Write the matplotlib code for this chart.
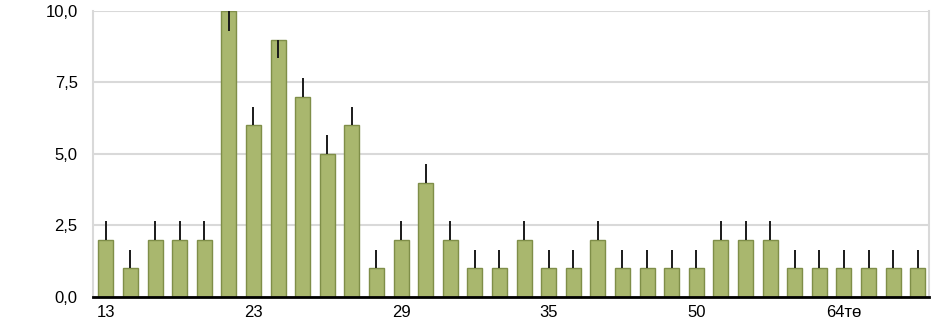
import matplotlib
matplotlib.use("Agg")
import matplotlib.pyplot as plt
import numpy as np

values = [2, 1, 2, 2, 2, 10, 6, 9, 7, 5, 6, 1, 2, 4, 2, 1, 1, 2, 1, 1, 2, 1, 1,
          1, 1, 2, 2, 2, 1, 1, 1, 1, 1, 1]
err_lower = [0, 0, 0, 0, 0, 0.7, 0, 0.65, 0, 0, 0, 0, 0, 0, 0, 0, 0, 0, 0, 0, 0,
             0, 0, 0, 0, 0, 0, 0, 0, 0, 0, 0, 0, 0]
err_upper = [0.65, 0.65, 0.65, 0.65, 0.65, 0, 0.65, 0, 0.65, 0.65, 0.65, 0.65,
             0.65, 0.65, 0.65, 0.65, 0.65, 0.65, 0.65, 0.65, 0.65, 0.65, 0.65,
             0.65, 0.65, 0.65, 0.65, 0.65, 0.65, 0.65, 0.65, 0.65, 0.65, 0.65]
tick_positions = [0, 6, 12, 18, 24, 30]
tick_labels = ["13", "23", "29", "35", "50", "64тө"]
y_ticks = [0, 2.5, 5, 7.5, 10]

plt.rcParams['font.family'] = ['Liberation Sans', 'DejaVu Sans']

fig = plt.figure(figsize=(9.31, 3.26), dpi=100)
ax = fig.add_axes([0.0999, 0.089, 0.898, 0.8773])

x = np.arange(len(values))
ax.bar(x, values, width=0.61, color='#a9b76e', edgecolor='#7f8e48',
       linewidth=1, zorder=2)
ax.errorbar(x, values, yerr=[err_lower, err_upper], fmt='none',
            ecolor='#1a1a1a', elinewidth=1.4, capsize=0, zorder=3)

ax.set_xlim(-0.52, 33.46)
ax.set_ylim(0, 10)
ax.set_yticks(y_ticks)
ax.set_yticklabels([f"{v:.1f}".replace('.', ',') for v in y_ticks], fontsize=12)
ax.set_xticks(tick_positions)
ax.set_xticklabels(tick_labels, fontsize=12)
ax.tick_params(axis='y', length=0, pad=11)
ax.tick_params(axis='x', length=0, pad=6)

ax.grid(axis='y', color='#d9d9d9', linewidth=1.5, zorder=0)
ax.set_axisbelow(True)
for s in ['left', 'right']:
    ax.spines[s].set_color('#d9d9d9')
    ax.spines[s].set_linewidth(1.5)
ax.spines['top'].set_visible(False)
ax.spines['bottom'].set_color('black')
ax.spines['bottom'].set_linewidth(2)
ax.spines['bottom'].set_zorder(4)

fig.savefig('out.png', dpi=100)
